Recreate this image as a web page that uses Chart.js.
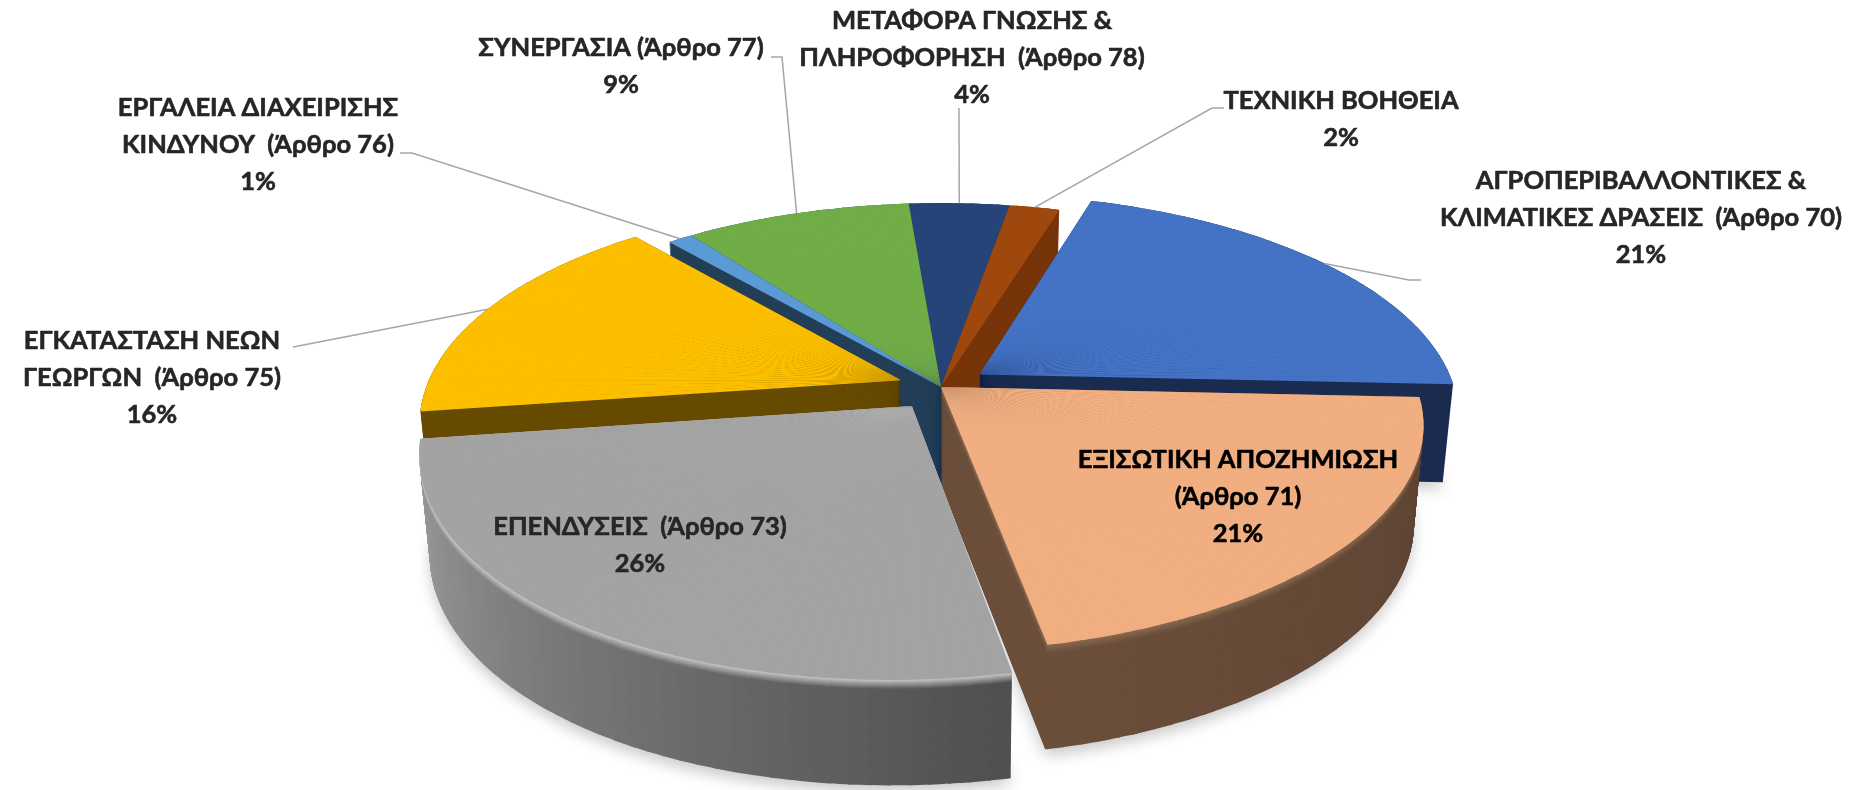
<!DOCTYPE html>
<html>
<head>
<meta charset="utf-8">
<script src="https://cdn.jsdelivr.net/npm/chart.js@4"></script>
<style>
    html, body { margin: 0; padding: 0; background: #ffffff; overflow: hidden; }
    canvas { display: block; }
</style>
</head>
<body>
<canvas id="pieChart" width="1855" height="790"></canvas>
<script>
const categories = [
    'ΑΓΡΟΠΕΡΙΒΑΛΛΟΝΤΙΚΕΣ & ΚΛΙΜΑΤΙΚΕΣ ΔΡΑΣΕΙΣ (Άρθρο 70)',
    'ΕΞΙΣΩΤΙΚΗ ΑΠΟΖΗΜΙΩΣΗ (Άρθρο 71)',
    'ΕΠΕΝΔΥΣΕΙΣ (Άρθρο 73)',
    'ΕΓΚΑΤΑΣΤΑΣΗ ΝΕΩΝ ΓΕΩΡΓΩΝ (Άρθρο 75)',
    'ΕΡΓΑΛΕΙΑ ΔΙΑΧΕΙΡΙΣΗΣ ΚΙΝΔΥΝΟΥ (Άρθρο 76)',
    'ΣΥΝΕΡΓΑΣΙΑ (Άρθρο 77)',
    'ΜΕΤΑΦΟΡΑ ΓΝΩΣΗΣ & ΠΛΗΡΟΦΟΡΗΣΗ (Άρθρο 78)',
    'ΤΕΧΝΙΚΗ ΒΟΗΘΕΙΑ'
];
const values = [21, 21, 26, 16, 1, 9, 4, 2];

// how each category label breaks over lines, as in the original
const labelLines = [
    ['ΑΓΡΟΠΕΡΙΒΑΛΛΟΝΤΙΚΕΣ &', 'ΚΛΙΜΑΤΙΚΕΣ ΔΡΑΣΕΙΣ  (Άρθρο 70)'],
    ['ΕΞΙΣΩΤΙΚΗ ΑΠΟΖΗΜΙΩΣΗ', '(Άρθρο 71)'],
    ['ΕΠΕΝΔΥΣΕΙΣ  (Άρθρο 73)'],
    ['ΕΓΚΑΤΑΣΤΑΣΗ ΝΕΩΝ', 'ΓΕΩΡΓΩΝ  (Άρθρο 75)'],
    ['ΕΡΓΑΛΕΙΑ ΔΙΑΧΕΙΡΙΣΗΣ', 'ΚΙΝΔΥΝΟΥ  (Άρθρο 76)'],
    ['ΣΥΝΕΡΓΑΣΙΑ (Άρθρο 77)'],
    ['ΜΕΤΑΦΟΡΑ ΓΝΩΣΗΣ &', 'ΠΛΗΡΟΦΟΡΗΣΗ  (Άρθρο 78)'],
    ['ΤΕΧΝΙΚΗ ΒΟΗΘΕΙΑ']
];

const topColors = ['#4472c4', '#f1ae81', '#a3a3a3', '#fbbf00', '#5b9bd5', '#70ad47', '#264478', '#9e480e'];
const sideLeft = ['#1b2c50', '#6b4f3b', '#9e9e9e', '#664b00', '#243f58', '#243f58', '#243f58', '#773409'];
const sideRight = ['#1b2c50', '#5c4332', '#505050', '#664b00', '#243f58', '#243f58', '#243f58', '#773409'];
const rimColors = [null, '#8a6a50', '#cacaca', null, null, null, null, null];
const explode = [0.1, 0, 0.105, 0.09, 0, 0, 0, 0];

// label centre x, first line y, and where the leader line leaves the label
const labelX = [1641, 1238, 640, 152, 258, 621, 972, 1341];
const labelY = [181, 460, 527, 341, 108, 48, 21, 101];
const textColors = ['#262626', '#000000', '#262626', '#262626', '#262626', '#262626', '#262626', '#262626'];
const leaderFrom = [[1421, 280], null, null, [293, 347], [400, 153], [771, 57], [959, 108], [1224, 108]];
const leaderElbow = [[1409, 280], null, null, null, [412, 153], [782, 57], null, [1212, 108]];

// back slices go first, their sides before any top; front ones are drawn whole after
const backSlices = [6, 5, 4, 7];
const frontSlices = [3, 0, 1, 2];

// 3d view of the disc: centre, radii, perspective, thickness
const view = {
    cx: 941, cy: 387, rx: 475, ry: 217,
    persp: 0.18, frontSkew: 12,
    depth: 98, depthPersp: 0.07, depthTaper: 0.02
};
const pieceAngle = Math.PI / 90;

function project(u, v, z) {
    const w = 1 / (1 - view.persp * v);
    const front = Math.max(v, 0);
    return {
        x: view.cx + (view.rx * u * w - view.frontSkew * front * front) * (1 - view.depthTaper * z),
        y: view.cy + view.ry * v * w + z * view.depth * (1 + view.depthPersp * v)
    };
}

function mixColor(a, b, t) {
    const c1 = [1, 3, 5].map(i => parseInt(a.substr(i, 2), 16));
    const c2 = [1, 3, 5].map(i => parseInt(b.substr(i, 2), 16));
    return '#' + c1.map((c, i) => Math.round(c + (c2[i] - c) * t).toString(16).padStart(2, '0')).join('');
}

// cut an arc element into thin sectors so each one can take its own affine part of the perspective
function slicePieces(el, index) {
    const mid = (el.startAngle + el.endAngle) / 2;
    const ex = explode[index] * Math.cos(mid);
    const ey = explode[index] * Math.sin(mid);
    const count = Math.max(1, Math.ceil((el.endAngle - el.startAngle) / pieceAngle));
    const step = (el.endAngle - el.startAngle) / count;
    const pieces = [];
    for (let i = 0; i < count; i++) {
        const a0 = el.startAngle + step * i;
        const a1 = Math.min(el.endAngle, a0 + step + (i < count - 1 ? 0.004 : 0));
        pieces.push({ a0, a1, ex, ey, t: count > 1 ? i / (count - 1) : 0 });
    }
    return pieces;
}

function drawPiece(ctx, el, piece, z, color) {
    const R = el.outerRadius;
    const c0 = Math.cos(piece.a0), s0 = Math.sin(piece.a0);
    const c1 = Math.cos(piece.a1), s1 = Math.sin(piece.a1);
    const apex = project(piece.ex, piece.ey, z);
    const p0 = project(piece.ex + c0, piece.ey + s0, z);
    const p1 = project(piece.ex + c1, piece.ey + s1, z);

    const det = R * R * (c0 * s1 - c1 * s0);
    const dx0 = p0.x - apex.x, dy0 = p0.y - apex.y;
    const dx1 = p1.x - apex.x, dy1 = p1.y - apex.y;
    const a = R * (dx0 * s1 - dx1 * s0) / det;
    const b = R * (dy0 * s1 - dy1 * s0) / det;
    const c = R * (dx1 * c0 - dx0 * c1) / det;
    const d = R * (dy1 * c0 - dy0 * c1) / det;

    const part = Object.create(el);
    part.startAngle = piece.a0;
    part.endAngle = piece.a1;
    part.circumference = piece.a1 - piece.a0;
    part.options = Object.assign({}, el.options, { backgroundColor: color, borderWidth: 0, offset: 0 });

    ctx.save();
    ctx.setTransform(a, b, c, d, apex.x - a * el.x - c * el.y, apex.y - b * el.x - d * el.y);
    part.draw(ctx);
    ctx.restore();
}

function drawSide(ctx, el, index) {
    const pieces = slicePieces(el, index);
    // soft shadow under the block
    ctx.save();
    ctx.shadowColor = 'rgba(0,0,0,0.22)';
    ctx.shadowBlur = 16;
    ctx.shadowOffsetY = 7;
    pieces.forEach(p => drawPiece(ctx, el, p, 0.99, sideRight[index]));
    ctx.restore();

    const rimPx = 9;
    for (let px = view.depth; px >= 0; px--) {
        const z = px / view.depth;
        pieces.forEach(p => {
            // all slices start on their right side and sweep clockwise round the front
            let color = mixColor(sideLeft[index], sideRight[index], 1 - p.t);
            if (rimColors[index] && px < rimPx) {
                color = mixColor(rimColors[index], color, px / rimPx);
            }
            drawPiece(ctx, el, p, z, color);
        });
    }
}

function drawTop(ctx, el, index) {
    slicePieces(el, index).forEach(p => drawPiece(ctx, el, p, 0, topColors[index]));
}

const pie3dPlugin = {
    id: 'pie3d',
    beforeDatasetsDraw(chart) {
        const ctx = chart.ctx;
        const arcs = chart.getDatasetMeta(0).data;
        backSlices.forEach(i => drawSide(ctx, arcs[i], i));
        backSlices.forEach(i => drawTop(ctx, arcs[i], i));
        frontSlices.forEach(i => {
            drawSide(ctx, arcs[i], i);
            drawTop(ctx, arcs[i], i);
        });
        return false;
    },
    afterDraw(chart) {
        const ctx = chart.ctx;
        const arcs = chart.getDatasetMeta(0).data;
        ctx.save();
        ctx.setTransform(1, 0, 0, 1, 0, 0);

        // leader lines run to the rim at the middle of each slice
        ctx.strokeStyle = '#a6a6a6';
        ctx.lineWidth = 1.5;
        arcs.forEach((el, i) => {
            if (!leaderFrom[i]) return;
            const mid = (el.startAngle + el.endAngle) / 2;
            const rim = project((1 + explode[i]) * Math.cos(mid), (1 + explode[i]) * Math.sin(mid), 0);
            ctx.beginPath();
            ctx.moveTo(leaderFrom[i][0], leaderFrom[i][1]);
            if (leaderElbow[i]) ctx.lineTo(leaderElbow[i][0], leaderElbow[i][1]);
            ctx.lineTo(rim.x, rim.y);
            ctx.stroke();
        });

        ctx.font = '700 25.5px Lato, "Open Sans", sans-serif';
        ctx.textAlign = 'center';
        ctx.textBaseline = 'middle';
        ctx.lineWidth = 0.6;
        ctx.lineJoin = 'round';
        values.forEach((value, i) => {
            const lines = labelLines[i].concat([value + '%']);
            ctx.fillStyle = textColors[i];
            ctx.strokeStyle = textColors[i];
            lines.forEach((line, n) => {
                ctx.fillText(line, labelX[i], labelY[i] + n * 37);
                ctx.strokeText(line, labelX[i], labelY[i] + n * 37);
            });
        });
        ctx.restore();
    }
};

new Chart(document.getElementById('pieChart').getContext('2d'), {
    type: 'pie',
    data: {
        labels: categories,
        datasets: [{
            data: values,
            backgroundColor: topColors,
            borderWidth: 0
        }]
    },
    options: {
        responsive: false,
        animation: false,
        rotation: 17,
        layout: { padding: 0 },
        plugins: {
            legend: { display: false },
            tooltip: { enabled: false }
        }
    },
    plugins: [pie3dPlugin]
});
</script>
</body>
</html>
